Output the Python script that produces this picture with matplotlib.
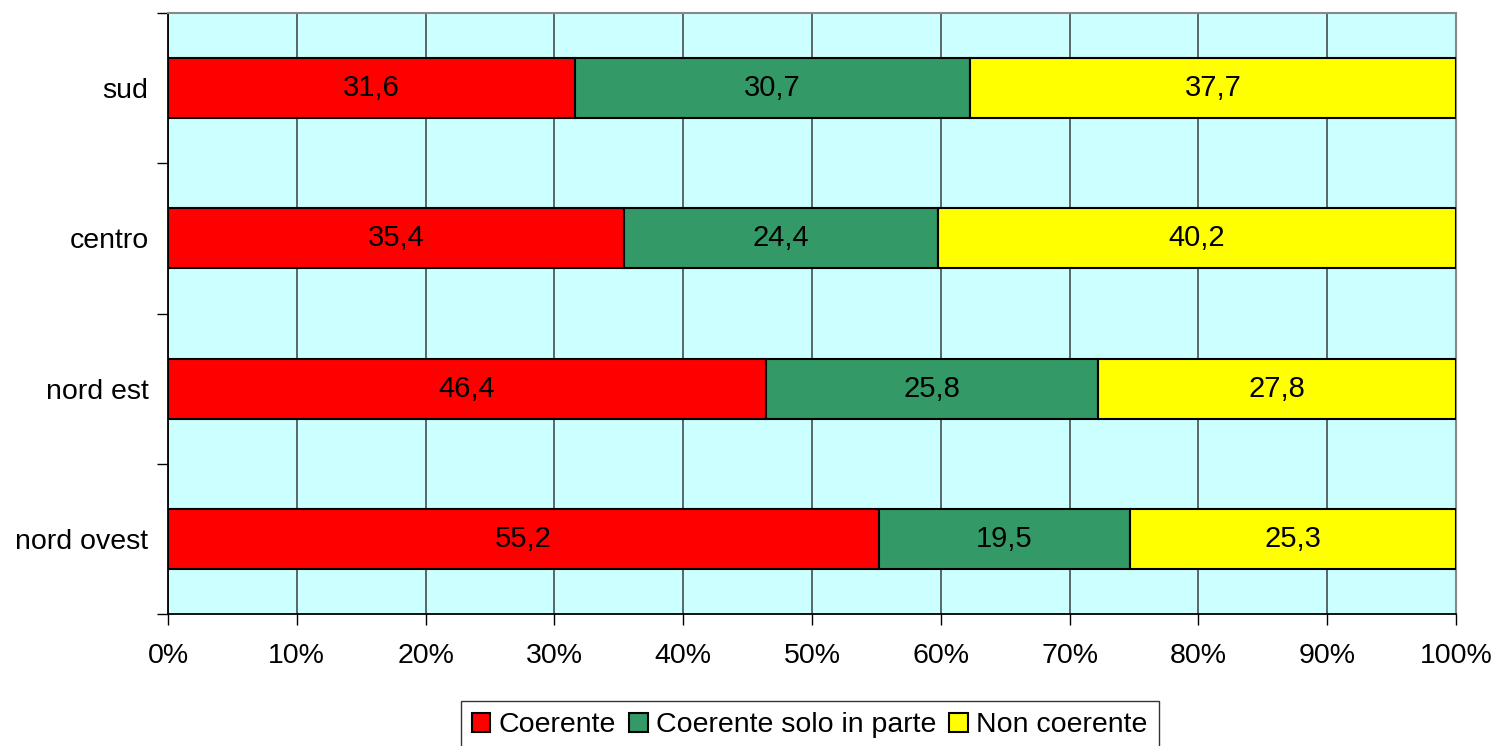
import numpy as np
import matplotlib
matplotlib.use("Agg")
import matplotlib.pyplot as plt
from matplotlib.ticker import FixedLocator, PercentFormatter

plt.rcParams["font.family"] = ["Liberation Sans", "DejaVu Sans"]

regions = ["nord ovest", "nord est", "centro", "sud"]
coerente = [55.2, 46.4, 35.4, 31.6]
in_parte = [19.5, 25.8, 24.4, 30.7]
non_coerente = [25.3, 27.8, 40.2, 37.7]

series = [
    ("Coerente", coerente, "#FF0000"),
    ("Coerente solo in parte", in_parte, "#339966"),
    ("Non coerente", non_coerente, "#FFFF00"),
]


def main():
    fig = plt.figure(figsize=(14.97, 7.46), dpi=100)
    ax = fig.add_axes([0.1122, 0.1769, 0.8604, 0.8057])
    ax.set_facecolor("#CCFFFF")

    y = np.arange(len(regions))
    left = np.zeros(len(regions))
    for name, vals, col in series:
        vals = np.array(vals)
        ax.barh(y, vals, left=left, height=0.4, color=col, edgecolor="black",
                linewidth=1.5, label=name, zorder=3)
        for yi, l, v in zip(y, left, vals):
            ax.text(l + v / 2, yi, f"{v:.1f}".replace(".", ","), ha="center",
                    va="center", fontsize=21, zorder=4)
        left = left + vals

    ax.set_xlim(0, 100)
    ax.set_ylim(-0.5, len(regions) - 0.5)
    ax.set_xticks(np.arange(0, 101, 10))
    ax.xaxis.set_major_formatter(PercentFormatter(decimals=0))
    ax.set_yticks(y)
    ax.set_yticklabels(regions)
    ax.yaxis.set_minor_locator(FixedLocator(np.arange(-0.5, len(regions), 1)))
    ax.tick_params(axis="y", which="major", length=0, labelsize=20.5, pad=14)
    ax.tick_params(axis="y", which="minor", length=8, width=1, color="black")
    ax.tick_params(axis="x", which="major", length=8, width=1, labelsize=20.5, pad=13)
    ax.grid(axis="x", color="#505a5a", linewidth=1.3, zorder=1)

    for s in ["left", "bottom"]:
        ax.spines[s].set_color("black")
        ax.spines[s].set_linewidth(1.3)
    for s in ["top", "right"]:
        ax.spines[s].set_color("#888888")
        ax.spines[s].set_linewidth(1.5)

    leg = fig.legend(loc="upper center", bbox_to_anchor=(0.541, 0.0603), ncol=3,
                     fontsize=20.5, frameon=True, fancybox=False, handlelength=0.65,
                     handleheight=0.65, handletextpad=0.3, columnspacing=0.45,
                     borderpad=0.4, borderaxespad=0)
    leg.get_frame().set_edgecolor("black")
    leg.get_frame().set_linewidth(1.0)

    fig.savefig("out.png", dpi=100)


if __name__ == "__main__":
    main()
